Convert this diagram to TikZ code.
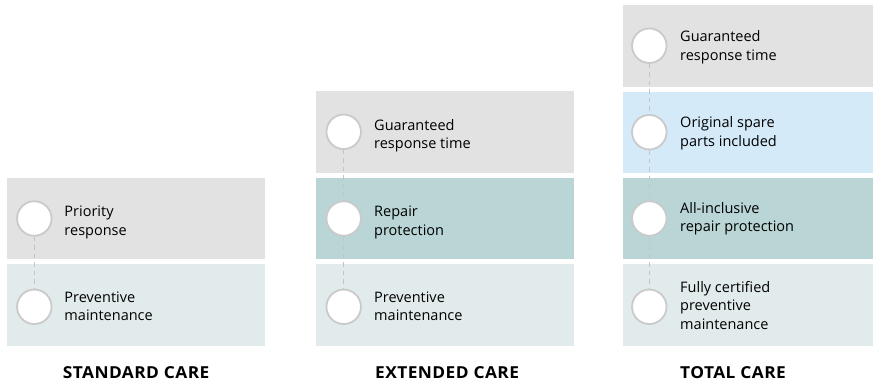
\documentclass[tikz,border=0pt]{standalone}
\usepackage{fontspec}
\setmainfont{Open Sans}
\definecolor{boxgray}{HTML}{E2E2E2}
\definecolor{boxblue}{HTML}{D4EAF8}
\definecolor{boxteal}{HTML}{B9D5D6}
\definecolor{boxpale}{HTML}{E2EBEC}
\definecolor{ringgray}{HTML}{CACACA}
\definecolor{dashgray}{HTML}{C4C4C4}
\newcommand{\widehead}[1]{\scalebox{1.05}[1]{#1}}
\begin{document}
\begin{tikzpicture}[x=1bp,y=-1bp,
  band/.style={draw=none,inner sep=0pt,minimum width=258bp,minimum height=81.5bp,anchor=north west},
  ring/.style={circle,draw=ringgray,line width=1.8bp,fill=white,minimum size=34.5bp,inner sep=0pt},
  label/.style={anchor=base west,align=left,inner sep=0pt,font=\fontsize{14.5bp}{18.3bp}\selectfont},
  heading/.style={anchor=base west,inner sep=0pt,font=\bfseries\fontsize{16.5bp}{18bp}\selectfont\addfontfeature{LetterSpace=2.5}},
  link/.style={draw=dashgray,line width=1.5bp,dash pattern=on 4.5bp off 4bp}]
\useasboundingbox (0,0) rectangle (873,383);
% bands
\node[band,fill=boxgray] (s1) at (7,177.5) {};
\node[band,fill=boxpale] (s2) at (7,264) {};
\node[band,fill=boxgray] (e1) at (316,91) {};
\node[band,fill=boxteal] (e2) at (316,177.5) {};
\node[band,fill=boxpale] (e3) at (316,264) {};
\node[band,fill=boxgray,minimum width=250bp] (t1) at (623,5) {};
\node[band,fill=boxblue,minimum width=250bp] (t2) at (623,91.5) {};
\node[band,fill=boxteal,minimum width=250bp] (t3) at (623,177.5) {};
\node[band,fill=boxpale,minimum width=250bp] (t4) at (623,264) {};
% rings
\node[ring] (sc1) at (34.3,218.5) {};
\node[ring] (sc2) at (34.3,306.8) {};
\node[ring] (ec1) at (343.7,131.8) {};
\node[ring] (ec2) at (343.7,218.5) {};
\node[ring] (ec3) at (343.7,306.8) {};
\node[ring] (tc1) at (649.3,45.7) {};
\node[ring] (tc2) at (649.3,132.2) {};
\node[ring] (tc3) at (649.3,218.5) {};
\node[ring] (tc4) at (649.3,306.8) {};
% dashed links
\path[link] (sc1.south) -- (sc2.north);
\path[link] (ec1.south) -- (ec2.north);
\path[link] (ec2.south) -- (ec3.north);
\path[link] (tc1.south) -- (tc2.north);
\path[link] (tc2.south) -- (tc3.north);
\path[link] (tc3.south) -- (tc4.north);
% labels (anchored at the baseline of the last line)
\node[label] (sl1) at (64.3,235) {Priority\\response};
\node[label] (sl2) at (64.3,320.7) {Preventive\\maintenance};
\node[label] (el1) at (374,148.3) {Guaranteed\\response time};
\node[label] (el2) at (374,235) {Repair\\protection};
\node[label] (el3) at (374,320.7) {Preventive\\maintenance};
\node[label] (tl1) at (680,60) {Guaranteed\\response time};
\node[label] (tl2) at (680,146) {Original spare\\parts included};
\node[label] (tl3) at (680,231.7) {All-inclusive\\repair protection};
\node[label] (tl4) at (680,329) {Fully certified\\preventive\\maintenance};
% headings
\node[heading] (sh) at (62.7,378.3) {\widehead{STANDARD CARE}};
\node[heading] (eh) at (375,378.3) {\widehead{EXTENDED CARE}};
\node[heading] (th) at (680,378.3) {\widehead{TOTAL CARE}};
\end{tikzpicture}
\end{document}
